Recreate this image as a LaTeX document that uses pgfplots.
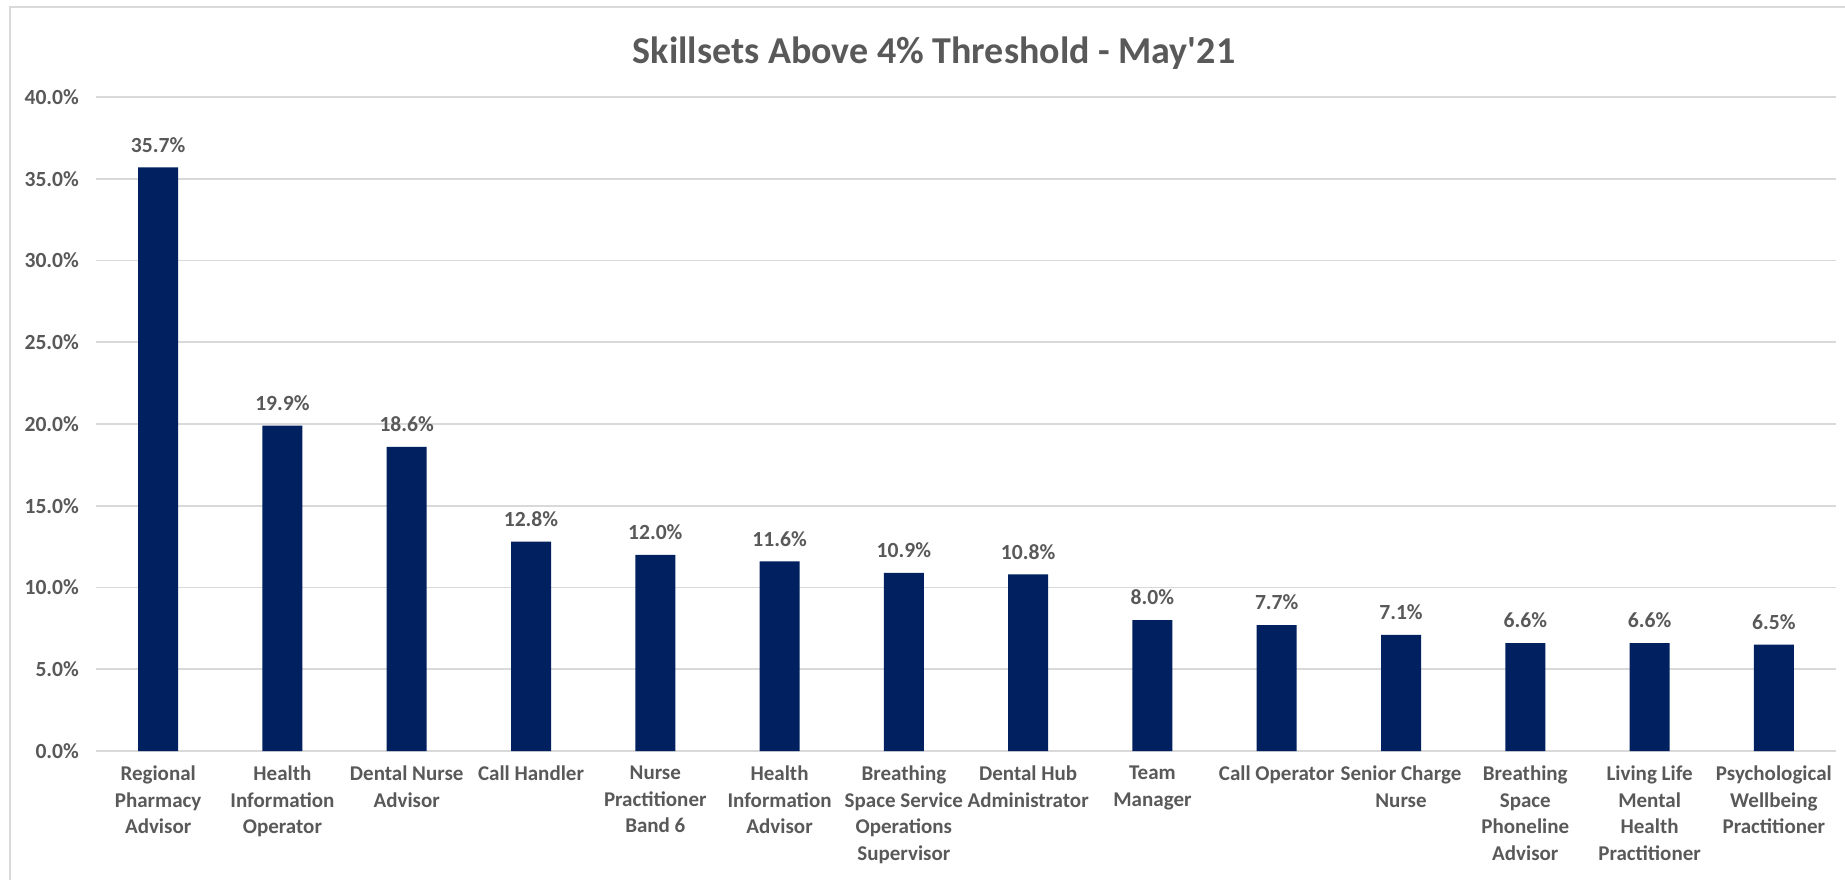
\documentclass[border=0pt]{standalone}
\usepackage{pgfplots}
\pgfplotsset{compat=1.18}
\usepackage{fontspec}
\setmainfont{Carlito}
% same family without the TeX quote mapping, for a straight apostrophe
\newfontfamily\plainquote{Carlito}
\definecolor{barblue}{HTML}{002060}
\definecolor{txtgrey}{HTML}{595959}
\definecolor{gridgrey}{HTML}{D9D9D9}
\begin{document}
\begin{tikzpicture}[x=1pt,y=1pt]
\useasboundingbox (0pt,0pt) rectangle (922.5pt,439.5pt);
% chart frame
\draw[gridgrey, line width=1pt] (5pt,-5pt) -- (5pt,436pt) -- (930pt,436pt);
% title
\node[font=\bfseries\fontsize{19}{23}\selectfont, text=txtgrey] at (467pt,412.8pt) {Skillsets Above 4\% Threshold - May{\plainquote\bfseries'}21};
\begin{axis}[
  at={(48pt,64pt)}, anchor=south west,
  scale only axis, width=870pt, height=327pt,
  xmin=-0.5, xmax=13.5, ymin=0, ymax=40,
  ytick={0,5,...,40},
  xtick={0,...,13},
  xticklabels={
    {Regional\\Pharmacy\\Advisor},
    {Health\\Information\\Operator},
    {Dental Nurse\\Advisor},
    {Call Handler},
    {Nurse\\Practitioner\\Band 6},
    {Health\\Information\\Advisor},
    {Breathing\\Space Service\\Operations\\Supervisor},
    {Dental Hub\\Administrator},
    {Team\\Manager},
    {Call Operator},
    {Senior Charge\\Nurse},
    {Breathing\\Space\\Phoneline\\Advisor},
    {Living Life\\Mental\\Health\\Practitioner},
    {Psychological\\Wellbeing\\Practitioner}},
  major tick length=0pt,
  axis line style={draw=none},
  ymajorgrids, grid style={gridgrey, line width=0.8pt},
  /pgf/number format/assume math mode=true,
  yticklabel={\pgfmathprintnumber[fixed, fixed zerofill, precision=1]{\tick}\%},
  yticklabel style={font=\bfseries\fontsize{10.8}{13}\selectfont, text=txtgrey, xshift=-5pt},
  xticklabel style={font=\bfseries\fontsize{10.5}{13.2}\selectfont, text=txtgrey, align=center, anchor=north, yshift=-4pt},
  ybar, bar width=20pt,
  nodes near coords={\pgfmathprintnumber[fixed, fixed zerofill, precision=1]{\pgfplotspointmeta}\%},
  every node near coord/.append style={font=\bfseries\fontsize{10.8}{13}\selectfont, text=txtgrey, anchor=south, yshift=4pt},
]
\addplot[fill=barblue, draw=none] coordinates {
  (0,35.7) (1,19.9) (2,18.6) (3,12.8) (4,12.0) (5,11.6) (6,10.9)
  (7,10.8) (8,8.0) (9,7.7) (10,7.1) (11,6.6) (12,6.6) (13,6.5)
};
\end{axis}
\end{tikzpicture}
\end{document}
